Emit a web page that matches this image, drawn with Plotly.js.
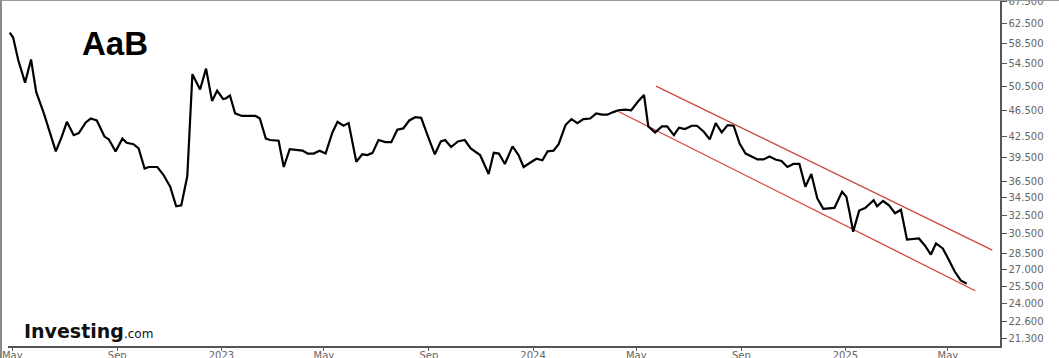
<!DOCTYPE html>
<html>
<head>
<meta charset="utf-8">
<script src="https://cdn.plot.ly/plotly-3.0.1.min.js"></script>
<style>
html,body{margin:0;padding:0;background:#fff;}
#wrap{position:relative;width:1059px;height:358px;overflow:hidden;}
#chart{width:1059px;height:358px;}
#frame{position:absolute;left:0;top:0;width:1059px;height:358px;box-sizing:border-box;border-left:2px solid #8a8a8a;border-top:1px solid #9a9a9a;pointer-events:none;}
</style>
</head>
<body>
<div id="wrap"><div id="chart"></div><div id="frame"></div></div>
<script>
// Price series (dates and closing values)
const dates = [
"2022-04-28","2022-05-02","2022-05-08","2022-05-16","2022-05-23","2022-05-29","2022-06-07","2022-06-21","2022-06-28",
"2022-07-04","2022-07-12","2022-07-18","2022-07-26","2022-08-01","2022-08-08","2022-08-17","2022-08-22","2022-08-30",
"2022-09-07","2022-09-12","2022-09-20","2022-09-26","2022-10-03","2022-10-08","2022-10-18","2022-10-25","2022-11-02",
"2022-11-09","2022-11-15","2022-11-22","2022-11-28","2022-12-07","2022-12-14","2022-12-21","2022-12-27",
"2023-01-03","2023-01-06","2023-01-11","2023-01-17","2023-01-25","2023-02-10","2023-02-15","2023-02-22","2023-02-27",
"2023-03-09","2023-03-15","2023-03-22","2023-03-29","2023-04-06","2023-04-12","2023-04-19","2023-04-26","2023-05-03",
"2023-05-11","2023-05-17","2023-05-24","2023-05-30","2023-06-08","2023-06-15","2023-06-21","2023-06-27","2023-07-04",
"2023-07-12","2023-07-19","2023-07-26","2023-08-02","2023-08-09","2023-08-16","2023-08-23","2023-08-31","2023-09-08",
"2023-09-15","2023-09-20","2023-09-27","2023-10-05","2023-10-13","2023-10-20","2023-10-31","2023-11-10","2023-11-16",
"2023-11-22","2023-11-29","2023-12-08","2023-12-15","2023-12-21","2023-12-29",
"2024-01-05","2024-01-12","2024-01-18","2024-01-25","2024-01-31","2024-02-08","2024-02-15","2024-02-22","2024-02-29",
"2024-03-08","2024-03-15","2024-03-22","2024-03-28","2024-04-04","2024-04-10","2024-04-18","2024-04-25","2024-05-03",
"2024-05-10","2024-05-15","2024-05-23","2024-05-31","2024-06-06","2024-06-14","2024-06-20","2024-06-27","2024-07-05",
"2024-07-11","2024-07-19","2024-07-26","2024-08-02","2024-08-09","2024-08-16","2024-08-23","2024-08-30","2024-09-06",
"2024-09-20","2024-09-27","2024-10-04","2024-10-11","2024-10-18","2024-10-25","2024-11-01","2024-11-08","2024-11-15",
"2024-11-22","2024-11-29","2024-12-06","2024-12-19","2024-12-28",
"2025-01-02","2025-01-06","2025-01-10","2025-01-17","2025-01-24","2025-02-03","2025-02-07","2025-02-14","2025-02-21",
"2025-02-28","2025-03-07","2025-03-14","2025-03-28","2025-04-04","2025-04-11","2025-04-17","2025-04-25","2025-05-02",
"2025-05-09","2025-05-16","2025-05-23"
];
const prices = [
60.6,59.6,55.2,51.1,55.3,49.5,46.0,40.4,42.5,
44.7,42.7,43.0,44.6,45.2,44.9,42.5,42.1,40.4,
42.2,41.6,41.4,40.8,38.1,38.3,38.3,37.3,35.8,
33.5,33.6,37.1,52.6,49.9,53.6,48.0,49.7,
48.3,48.4,48.9,46.0,45.6,45.6,45.2,42.2,42.0,
41.9,38.3,40.7,40.6,40.5,40.1,40.1,40.5,40.1,
43.1,44.7,44.1,44.5,39.0,40.0,39.9,40.2,42.0,
41.7,41.7,43.5,43.7,44.9,45.4,45.3,42.5,40.0,
41.8,42.0,41.0,41.8,42.0,40.8,39.9,37.4,40.2,
40.1,38.7,41.1,39.9,38.3,38.9,
39.4,39.2,40.4,40.5,41.4,44.2,45.1,44.5,45.1,
45.2,46.0,45.8,45.8,46.2,46.5,46.6,46.5,47.9,
49.0,44.0,43.1,44.0,44.0,42.7,43.8,43.6,44.1,
44.1,43.2,42.1,44.5,43.1,44.2,44.1,41.5,40.1,
39.3,39.3,39.7,39.3,39.1,38.3,38.7,38.7,35.8,
37.4,34.4,33.2,33.3,35.2,
34.6,32.7,30.7,33.0,33.3,34.2,33.5,34.1,33.6,
32.7,33.1,29.9,30.0,29.3,28.4,29.5,29.0,27.9,
26.8,26.0,25.7
];
// Trend channel end points
const upperDates = ["2024-05-24","2025-06-22"];
const upperVals = [50.5, 28.84];
const lowerDates = ["2024-04-10","2025-06-02"];
const lowerVals = [46.3, 25.1];
// Axis ticks
const xTickVals = ["2022-05-01","2022-09-01","2023-01-01","2023-05-01","2023-09-01","2024-01-01","2024-05-01","2024-09-01","2025-01-01","2025-05-01"];
const xTickText = ["May","Sep","2023","May","Sep","2024","May","Sep","2025","May"];
const yTickVals = [67.5,62.5,58.5,54.5,50.5,46.5,42.5,39.5,36.5,34.5,32.5,30.5,28.5,27.0,25.5,24.0,22.6,21.3];
const yTickText = yTickVals.map(v => v.toFixed(3));

const traces = [
  {x: upperDates, y: upperVals, type:'scatter', mode:'lines', line:{color:'#d04545', width:1.3}, hoverinfo:'skip'},
  {x: lowerDates, y: lowerVals, type:'scatter', mode:'lines', line:{color:'#d04545', width:1.3}, hoverinfo:'skip'},
  {x: dates, y: prices, type:'scatter', mode:'lines', line:{color:'#000', width:2.2}}
];

const layout = {
  width:1059, height:358,
  margin:{l:8, r:59, t:0, b:12, pad:0},
  paper_bgcolor:'#fff', plot_bgcolor:'#fff',
  showlegend:false,
  font:{family:'DejaVu Sans, Verdana, sans-serif', color:'#666', size:10},
  xaxis:{
    type:'date', range:['2022-04-26','2025-07-01'],
    tickmode:'array', tickvals:xTickVals, ticktext:xTickText,
    showgrid:false, zeroline:false,
    showline:true, linecolor:'#555', linewidth:1.5,
    ticks:'outside', ticklen:3, tickcolor:'#555', tickwidth:1,
    ticklabelstandoff:-4, ticklabeloverflow:'allow',
    tickfont:{size:10, color:'#666'}
  },
  yaxis:{
    type:'log', side:'right',
    range:[Math.log10(20.78), Math.log10(67.76)],
    tickmode:'array', tickvals:yTickVals, ticktext:yTickText,
    showgrid:false, zeroline:false,
    showline:true, linecolor:'#555', linewidth:1.5,
    ticks:'outside', ticklen:5, tickcolor:'#555', tickwidth:1,
    ticklabeloverflow:'allow',
    tickfont:{size:10, color:'#666'}
  },
  annotations:[
    {text:'AaB', xref:'paper', yref:'paper', x:(115-8)/992, y:1-43/346, xanchor:'center', yanchor:'middle',
     showarrow:false, font:{family:'Liberation Sans, Arial, sans-serif', size:33, color:'#000', weight:'bold'}},
    {text:'<b>Investing</b><span style="font-size:12px;font-weight:normal">.com</span>', xref:'paper', yref:'paper',
     x:(22-8)/992, y:1-331/346, xanchor:'left', yanchor:'middle', showarrow:false,
     font:{family:'DejaVu Sans, sans-serif', size:19, color:'#111'}}
  ]
};

Plotly.newPlot('chart', traces, layout, {staticPlot:true, displayModeBar:false});
</script>
</body>
</html>
